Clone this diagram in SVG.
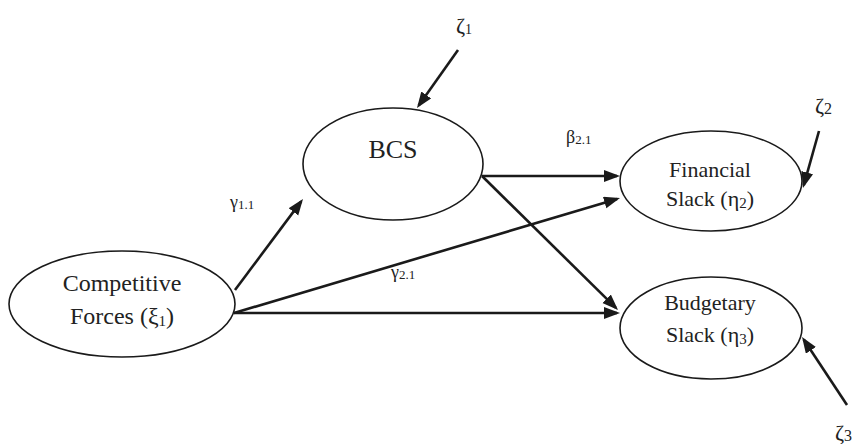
<svg xmlns="http://www.w3.org/2000/svg" width="859" height="444" viewBox="0 0 859 444">
<style>
.node{fill:#fff;stroke:#1a1a1a;stroke-width:1.6}
.t{font-family:'Liberation Serif','DejaVu Serif',serif;fill:#222;text-anchor:middle}
.lab{font-family:'Liberation Serif','DejaVu Serif',serif;fill:#222}
.c{stroke:#1a1a1a;stroke-width:2.6;fill:none;marker-end:url(#ah)}
</style>
<defs>
<marker id="ah" markerUnits="userSpaceOnUse" markerWidth="18" markerHeight="14" refX="13" refY="6" orient="auto">
<path d="M0,0 L16,6 L0,12 z" fill="#1a1a1a"/>
</marker>
</defs>
<g id="connectors">
<line class="c" x1="458" y1="50" x2="418.7" y2="105.5"/>
<line class="c" x1="235" y1="290" x2="301.2" y2="201.4"/>
<line class="c" x1="234" y1="313" x2="617.1" y2="198.9"/>
<line class="c" x1="234" y1="313" x2="617" y2="313"/>
<line class="c" x1="482" y1="176" x2="617" y2="176"/>
<line class="c" x1="482" y1="176" x2="615.9" y2="307.9"/>
<line class="c" x1="819" y1="131" x2="803.8" y2="185.1"/>
<line class="c" x1="847" y1="405" x2="803.7" y2="339.5"/>
</g>
<g id="cf">
<ellipse class="node" cx="122" cy="304" rx="113" ry="53"/>
<text class="t" x="122" y="291" font-size="24" font-family="Liberation Serif, serif">Competitive</text>
<text class="t" x="122" y="324" font-size="24" font-family="Liberation Serif, serif">Forces (ξ<tspan font-size="15" dy="2">1</tspan><tspan dy="-2">)</tspan></text>
</g>
<g id="bcs">
<ellipse class="node" cx="393" cy="164" rx="90" ry="56"/>
<text class="t" x="393" y="158" font-size="26" font-family="Liberation Serif, serif">BCS</text>
</g>
<g id="fs">
<ellipse class="node" cx="711" cy="181" rx="91" ry="50"/>
<text class="t" x="710" y="177" font-size="22" font-family="Liberation Serif, serif">Financial</text>
<text class="t" x="710" y="206" font-size="22" font-family="Liberation Serif, serif">Slack (η<tspan font-size="15" dy="2">2</tspan><tspan dy="-2">)</tspan></text>
</g>
<g id="bs">
<ellipse class="node" cx="711" cy="328" rx="91" ry="51"/>
<text class="t" x="710" y="310" font-size="22" font-family="Liberation Serif, serif">Budgetary</text>
<text class="t" x="710" y="342" font-size="22" font-family="Liberation Serif, serif">Slack (η<tspan font-size="15" dy="2">3</tspan><tspan dy="-2">)</tspan></text>
</g>
<g id="labels" font-family="Liberation Serif, serif">
<text class="lab" x="456" y="33" font-size="22">ζ<tspan font-size="14" dy="1">1</tspan></text>
<text class="lab" x="815" y="113" font-size="22">ζ<tspan font-size="16" dy="1">2</tspan></text>
<text class="lab" x="835" y="440" font-size="22">ζ<tspan font-size="16" dy="1">3</tspan></text>
<text class="lab" x="230" y="208" font-size="18">γ<tspan font-size="13" dy="1">1.1</tspan></text>
<text class="lab" x="391" y="278" font-size="18">γ<tspan font-size="13" dy="1">2.1</tspan></text>
<text class="lab" x="566" y="143" font-size="18">β<tspan font-size="13" dy="1">2.1</tspan></text>
</g>
</svg>
